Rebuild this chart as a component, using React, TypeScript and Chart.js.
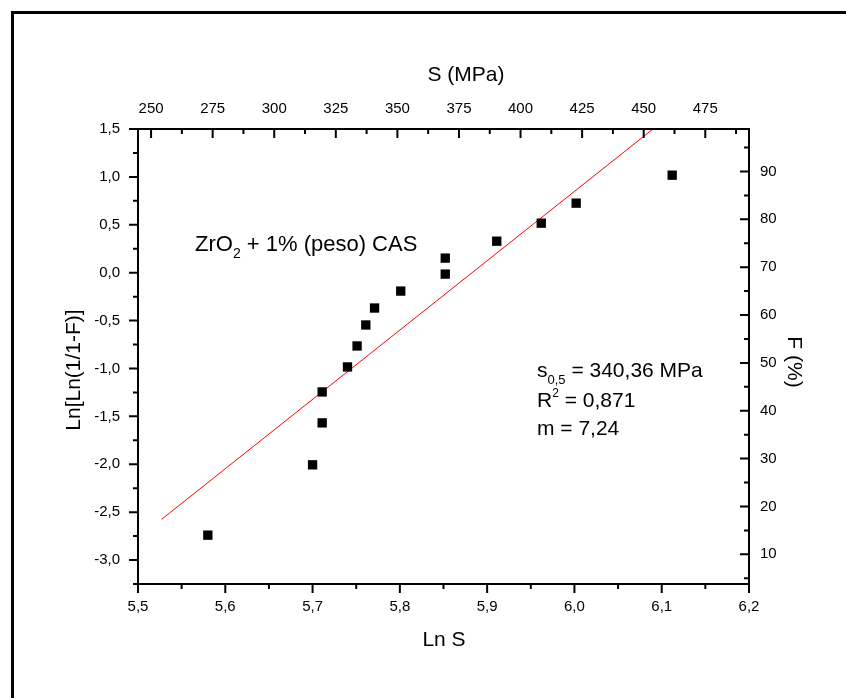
import React, { useEffect, useRef } from "react";
import { Chart, registerables } from "chart.js";

Chart.register(...registerables);

// ---- data ----
const lnS = [5.58, 5.70, 5.711, 5.711, 5.74, 5.751, 5.761, 5.771, 5.801, 5.852, 5.852, 5.911, 5.962, 6.002, 6.112];
const lnLn = [-2.74, -2.006, -1.568, -1.245, -0.984, -0.765, -0.546, -0.369, -0.192, -0.015, 0.152, 0.329, 0.517, 0.726, 1.018];
const fitX = [5.527, 6.09];
const fitY = [-2.575, 1.5];

const xTicks = [5.5, 5.6, 5.7, 5.8, 5.9, 6.0, 6.1, 6.2];
const yTicks = [-3.0, -2.5, -2.0, -1.5, -1.0, -0.5, 0.0, 0.5, 1.0, 1.5];
const sTicks = [250, 275, 300, 325, 350, 375, 400, 425, 450, 475];
const fTicks = [10, 20, 30, 40, 50, 60, 70, 80, 90];

const X_MIN = 5.5;
const X_MAX = 6.2;
const Y_MIN = -3.25;
const Y_MAX = 1.5;
const S_MIN = Math.exp(X_MIN);
const S_MAX = Math.exp(X_MAX);
const F_MIN = 100 * (1 - Math.exp(-Math.exp(Y_MIN)));
const F_MAX = 100 * (1 - Math.exp(-Math.exp(Y_MAX)));

const FONT = '"Liberation Sans", Arial, Helvetica, sans-serif';
const comma1 = (v: number) => Number(v).toFixed(1).replace(".", ",");

function drawRuns(ctx: CanvasRenderingContext2D, x: number, y: number, runs: { t: string; s: number; dy?: number }[]) {
  let cx = x;
  for (const r of runs) {
    ctx.font = `${r.s}px ${FONT}`;
    ctx.fillText(r.t, cx, y + (r.dy || 0));
    cx += ctx.measureText(r.t).width;
  }
}

function drawTitle(ctx: CanvasRenderingContext2D, text: string, x: number, y: number, rot: number, size: number) {
  ctx.save();
  ctx.translate(x, y);
  ctx.rotate(rot);
  ctx.font = `${size}px ${FONT}`;
  ctx.textAlign = "center";
  ctx.textBaseline = "middle";
  ctx.fillText(text, 0, 0);
  ctx.restore();
}

const decorPlugin = {
  id: "decor",
  beforeDraw(chart: any) {
    const ctx = chart.ctx as CanvasRenderingContext2D;
    ctx.save();
    ctx.fillStyle = "#ffffff";
    ctx.fillRect(0, 0, chart.width, chart.height);
    ctx.strokeStyle = "#000";
    ctx.lineWidth = 3;
    ctx.beginPath();
    ctx.moveTo(12.5, chart.height + 10);
    ctx.lineTo(12.5, 12.5);
    ctx.lineTo(chart.width + 10, 12.5);
    ctx.stroke();
    ctx.restore();
  },
  afterDraw(chart: any) {
    const ctx = chart.ctx as CanvasRenderingContext2D;
    const a = chart.chartArea;
    const sx = chart.scales.x, sy = chart.scales.y, sx2 = chart.scales.x2, sy2 = chart.scales.y2;
    const MAJ = 9, MIN = 5;
    ctx.save();
    ctx.strokeStyle = "#000";
    ctx.lineWidth = 2;
    ctx.strokeRect(a.left, a.top, a.right - a.left, a.bottom - a.top);
    ctx.beginPath();
    // bottom (outward)
    for (let i = 0; i < xTicks.length; i++) {
      const p = sx.getPixelForValue(xTicks[i]);
      ctx.moveTo(p, a.bottom); ctx.lineTo(p, a.bottom + MAJ);
      if (i < xTicks.length - 1) {
        const m = sx.getPixelForValue((xTicks[i] + xTicks[i + 1]) / 2);
        ctx.moveTo(m, a.bottom); ctx.lineTo(m, a.bottom + MIN);
      }
    }
    // left (outward)
    for (let i = 0; i < yTicks.length; i++) {
      const p = sy.getPixelForValue(yTicks[i]);
      ctx.moveTo(a.left, p); ctx.lineTo(a.left - MAJ, p);
      const m = sy.getPixelForValue(yTicks[i] - 0.25);
      ctx.moveTo(a.left, m); ctx.lineTo(a.left - MIN, m);
    }
    // top (inward)
    for (let i = 0; i < sTicks.length; i++) {
      const p = sx2.getPixelForValue(sTicks[i]);
      ctx.moveTo(p, a.top); ctx.lineTo(p, a.top + MAJ);
      const mv = sTicks[i] + 12.5;
      if (mv < S_MAX) {
        const m = sx2.getPixelForValue(mv);
        ctx.moveTo(m, a.top); ctx.lineTo(m, a.top + MIN);
      }
    }
    // right (inward)
    for (let i = 0; i < fTicks.length; i++) {
      const p = sy2.getPixelForValue(fTicks[i]);
      ctx.moveTo(a.right, p); ctx.lineTo(a.right - MAJ, p);
    }
    for (let v = 5; v < F_MAX; v += 10) {
      if (v > F_MIN) {
        const m = sy2.getPixelForValue(v);
        ctx.moveTo(a.right, m); ctx.lineTo(a.right - MIN, m);
      }
    }
    ctx.stroke();

    ctx.fillStyle = "#000";
    // axis titles
    drawTitle(ctx, "S (MPa)", 466, 75, 0, 21);
    drawTitle(ctx, "Ln S", 444, 640, 0, 21);
    drawTitle(ctx, "Ln[Ln(1/1-F)]", 74.5, 370, -Math.PI / 2, 21);
    drawTitle(ctx, "F (%)", 794, 362, Math.PI / 2, 21);

    // annotations
    ctx.textBaseline = "alphabetic";
    ctx.textAlign = "left";
    drawRuns(ctx, 195, 251, [
      { t: "ZrO", s: 22 },
      { t: "2", s: 14, dy: 7 },
      { t: " + 1% (peso) CAS", s: 22 },
    ]);
    drawRuns(ctx, 537, 377, [
      { t: "s", s: 21 },
      { t: "0,5", s: 13, dy: 7 },
      { t: " = 340,36 MPa", s: 21 },
    ]);
    drawRuns(ctx, 537, 407, [
      { t: "R", s: 21 },
      { t: "2", s: 12, dy: -10 },
      { t: " = 0,871", s: 21 },
    ]);
    drawRuns(ctx, 537, 435, [{ t: "m = 7,24", s: 21 }]);
    ctx.restore();
  },
};

export default function App() {
  const ref = useRef<HTMLCanvasElement | null>(null);
  useEffect(() => {
    if (!ref.current) return;
    Chart.defaults.font.family = FONT;
    const tickFont = { size: 15, family: FONT };
    const chart = new Chart(ref.current, {
      type: "scatter",
      data: {
        datasets: [
          {
            label: "dados",
            data: lnS.map((x, i) => ({ x, y: lnLn[i] })),
            pointStyle: "rect",
            pointRadius: 6.6,
            pointBackgroundColor: "#000",
            pointBorderWidth: 0,
            showLine: false,
            xAxisID: "x",
            yAxisID: "y",
          },
          {
            label: "ajuste",
            data: fitX.map((x, i) => ({ x, y: fitY[i] })),
            showLine: true,
            borderColor: "#ff0000",
            borderWidth: 1,
            pointRadius: 0,
            xAxisID: "x",
            yAxisID: "y",
          },
        ],
      },
      options: {
        responsive: false,
        animation: false,
        layout: { padding: 0 },
        plugins: { legend: { display: false }, tooltip: { enabled: false } },
        scales: {
          x: {
            type: "linear",
            position: "bottom",
            min: X_MIN,
            max: X_MAX,
            afterBuildTicks: (s: any) => { s.ticks = xTicks.map((v) => ({ value: v })); },
            afterFit: (s: any) => { s.height = 114; },
            grid: { display: false, drawTicks: false },
            border: { display: false },
            ticks: { autoSkip: false, maxRotation: 0, padding: 14, color: "#000", font: tickFont, callback: (v: any) => comma1(v) },
            title: { display: false },
          },
          x2: {
            type: "linear",
            position: "top",
            min: S_MIN,
            max: S_MAX,
            afterBuildTicks: (s: any) => { s.ticks = sTicks.map((v) => ({ value: v })); },
            afterFit: (s: any) => { s.height = 129; },
            grid: { display: false, drawTicks: false },
            border: { display: false },
            ticks: { autoSkip: false, maxRotation: 0, padding: 11, color: "#000", font: tickFont, callback: (v: any) => String(v) },
            title: { display: false },
          },
          y: {
            type: "linear",
            position: "left",
            min: Y_MIN,
            max: Y_MAX,
            afterBuildTicks: (s: any) => { s.ticks = yTicks.map((v) => ({ value: v })); },
            afterFit: (s: any) => { s.width = 138; },
            grid: { display: false, drawTicks: false },
            border: { display: false },
            ticks: { autoSkip: false, padding: 18, color: "#000", font: tickFont, callback: (v: any) => comma1(v) },
            title: { display: false },
          },
          y2: {
            type: "linear",
            position: "right",
            min: F_MIN,
            max: F_MAX,
            afterBuildTicks: (s: any) => { s.ticks = fTicks.map((v) => ({ value: v })); },
            afterFit: (s: any) => { s.width = 97; },
            grid: { display: false, drawTicks: false },
            border: { display: false },
            ticks: { autoSkip: false, padding: 11, color: "#000", font: tickFont, callback: (v: any) => String(v) },
            title: { display: false },
          },
        },
      },
      plugins: [decorPlugin],
    } as any);
    return () => chart.destroy();
  }, []);
  return (
    <div style={{ position: "absolute", left: 0, top: 0, width: 846, height: 698, background: "#fff" }}>
      <canvas ref={ref} width={846} height={698} style={{ display: "block", width: 846, height: 698 }} />
    </div>
  );
}
